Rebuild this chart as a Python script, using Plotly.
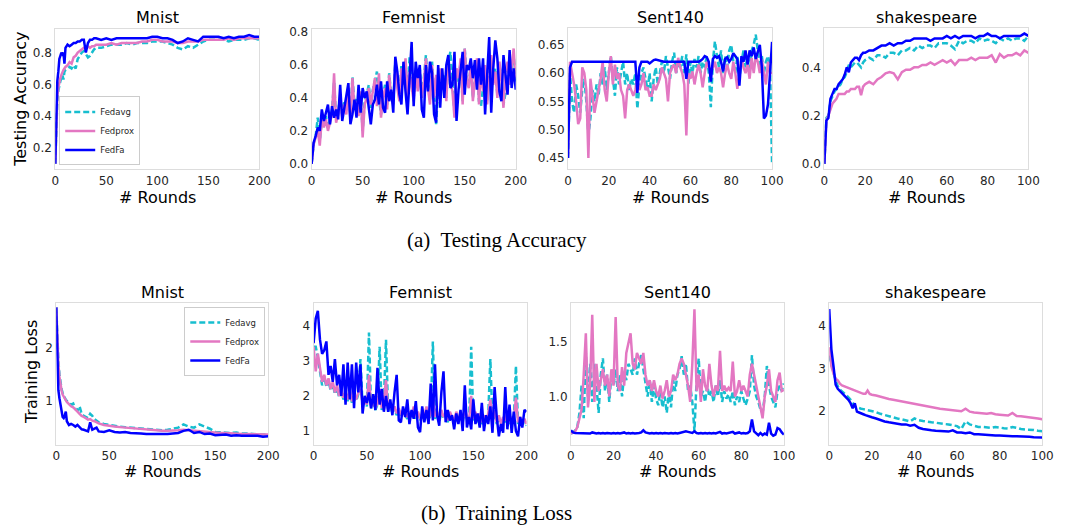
import plotly.graph_objects as go
from plotly.subplots import make_subplots

# ---------------- DATA ----------------
SERIES_NAMES = ["Fedavg", "Fedprox", "FedFa"]

# --- Mnist (rounds 0..200, uneven sampling) ---
MNIST_X = [0, 1, 2, 3, 4, 5, 6, 7, 8, 9, 10,
           12, 14, 16, 18, 20, 22, 24, 26, 28, 30, 32, 34, 36, 38, 40,
           45, 50, 55, 60, 65, 70, 75, 80, 85, 90,
           95, 100, 105, 110, 115, 120, 125, 130, 135, 140,
           145, 150, 155, 160, 165, 170, 175, 180, 185, 190,
           195, 200]

MNIST_ACC_FEDAVG = [0.10, 0.38, 0.50, 0.56, 0.60, 0.62, 0.64, 0.66, 0.63, 0.68, 0.69,
                    0.70, 0.71, 0.70, 0.72, 0.70, 0.76, 0.78, 0.80, 0.81, 0.79, 0.77, 0.78, 0.80, 0.82, 0.83,
                    0.83, 0.84, 0.85, 0.85, 0.85, 0.86, 0.85, 0.86, 0.86, 0.86,
                    0.87, 0.87, 0.87, 0.86, 0.85, 0.83, 0.82, 0.84, 0.83, 0.85,
                    0.87, 0.88, 0.88, 0.88, 0.88, 0.87, 0.88, 0.88, 0.88, 0.89,
                    0.89, 0.88]
MNIST_ACC_FEDPROX = [0.10, 0.40, 0.52, 0.58, 0.62, 0.64, 0.66, 0.68, 0.69, 0.70, 0.71,
                     0.72, 0.74, 0.73, 0.77, 0.78, 0.80, 0.81, 0.82, 0.83, 0.83, 0.84, 0.83, 0.84, 0.84, 0.85,
                     0.85, 0.85, 0.86, 0.85, 0.86, 0.86, 0.86, 0.86, 0.87, 0.87,
                     0.88, 0.88, 0.87, 0.87, 0.87, 0.86, 0.86, 0.87, 0.87, 0.87,
                     0.88, 0.88, 0.88, 0.88, 0.88, 0.89, 0.88, 0.89, 0.89, 0.89,
                     0.89, 0.89]
MNIST_ACC_FEDFA = [0.10, 0.45, 0.62, 0.68, 0.76, 0.78, 0.80, 0.79, 0.80, 0.73, 0.83,
                   0.85, 0.84, 0.85, 0.86, 0.86, 0.87, 0.87, 0.88, 0.88, 0.80, 0.86, 0.88, 0.88, 0.89, 0.89,
                   0.88, 0.89, 0.88, 0.89, 0.89, 0.89, 0.89, 0.89, 0.89, 0.89,
                   0.90, 0.90, 0.89, 0.89, 0.88, 0.86, 0.87, 0.89, 0.88, 0.87,
                   0.90, 0.90, 0.90, 0.90, 0.89, 0.90, 0.89, 0.90, 0.90, 0.91,
                   0.90, 0.90]

MNIST_LOSS_FEDAVG = [2.75, 2.15, 1.75, 1.50, 1.32, 1.22, 1.15, 1.10, 1.08, 1.02, 1.00,
                     0.95, 0.93, 0.95, 0.85, 0.82, 0.90, 0.75, 0.72, 0.70, 0.68, 0.76, 0.72, 0.66, 0.63, 0.60,
                     0.57, 0.55, 0.53, 0.52, 0.51, 0.50, 0.49, 0.48, 0.47, 0.46,
                     0.46, 0.45, 0.46, 0.48, 0.50, 0.56, 0.52, 0.50, 0.56, 0.52,
                     0.48, 0.42, 0.41, 0.40, 0.40, 0.41, 0.39, 0.39, 0.38, 0.38,
                     0.37, 0.37]
MNIST_LOSS_FEDPROX = [2.75, 2.10, 1.70, 1.45, 1.30, 1.20, 1.12, 1.08, 1.05, 1.00, 0.98,
                      0.94, 0.90, 0.88, 0.83, 0.80, 0.76, 0.72, 0.70, 0.67, 0.65, 0.66, 0.63, 0.62, 0.60, 0.58,
                      0.55, 0.53, 0.52, 0.51, 0.50, 0.50, 0.49, 0.48, 0.47, 0.46,
                      0.45, 0.44, 0.44, 0.44, 0.45, 0.46, 0.45, 0.44, 0.44, 0.43,
                      0.42, 0.41, 0.40, 0.40, 0.39, 0.39, 0.38, 0.38, 0.38, 0.37,
                      0.37, 0.37]
MNIST_LOSS_FEDFA = [2.75, 1.75, 1.20, 1.05, 0.95, 0.78, 0.70, 0.68, 0.72, 0.80, 0.62,
                    0.55, 0.57, 0.55, 0.52, 0.55, 0.50, 0.47, 0.46, 0.44, 0.43, 0.60, 0.46, 0.48, 0.50, 0.43,
                    0.42, 0.45, 0.42, 0.41, 0.42, 0.40, 0.40, 0.39, 0.38, 0.38,
                    0.37, 0.37, 0.38, 0.39, 0.40, 0.44, 0.46, 0.40, 0.42, 0.38,
                    0.39, 0.36, 0.36, 0.37, 0.35, 0.36, 0.35, 0.35, 0.34, 0.35,
                    0.33, 0.34]

# --- Femnist (rounds 0..200, every 2 rounds) ---
FEMNIST_X = list(range(0, 201, 2))

FEMNIST_ACC_FEDAVG = [0.00, 0.12, 0.17, 0.28, 0.14, 0.26, 0.24, 0.29, 0.22, 0.28,
                      0.32, 0.50, 0.27, 0.32, 0.40, 0.30, 0.38, 0.32, 0.44, 0.30,
                      0.53, 0.36, 0.40, 0.31, 0.42, 0.20, 0.38, 0.42, 0.48, 0.34,
                      0.45, 0.50, 0.56, 0.40, 0.30, 0.42, 0.48, 0.35, 0.55, 0.42,
                      0.38, 0.62, 0.48, 0.40, 0.60, 0.50, 0.62, 0.42, 0.65, 0.48,
                      0.40, 0.56, 0.46, 0.58, 0.42, 0.52, 0.66, 0.48, 0.38, 0.62,
                      0.42, 0.24, 0.46, 0.56, 0.50, 0.54, 0.40, 0.62, 0.68, 0.46,
                      0.30, 0.56, 0.50, 0.62, 0.38, 0.70, 0.52, 0.48, 0.60, 0.40,
                      0.54, 0.62, 0.38, 0.35, 0.46, 0.58, 0.38, 0.54, 0.64, 0.50,
                      0.58, 0.42, 0.60, 0.52, 0.36, 0.43, 0.60, 0.50, 0.56, 0.66,
                      0.50]
FEMNIST_ACC_FEDPROX = [0.00, 0.12, 0.16, 0.20, 0.11, 0.28, 0.22, 0.27, 0.20, 0.26,
                       0.30, 0.55, 0.25, 0.30, 0.42, 0.28, 0.36, 0.30, 0.46, 0.27,
                       0.52, 0.34, 0.38, 0.29, 0.44, 0.16, 0.36, 0.40, 0.46, 0.36,
                       0.43, 0.52, 0.35, 0.55, 0.28, 0.40, 0.46, 0.33, 0.54, 0.40,
                       0.36, 0.60, 0.46, 0.38, 0.58, 0.48, 0.64, 0.40, 0.56, 0.46,
                       0.38, 0.58, 0.44, 0.56, 0.40, 0.50, 0.64, 0.46, 0.36, 0.60,
                       0.40, 0.54, 0.44, 0.58, 0.48, 0.52, 0.38, 0.64, 0.50, 0.44,
                       0.28, 0.58, 0.52, 0.64, 0.36, 0.70, 0.50, 0.46, 0.62, 0.38,
                       0.52, 0.64, 0.36, 0.58, 0.44, 0.60, 0.36, 0.52, 0.66, 0.48,
                       0.56, 0.40, 0.62, 0.50, 0.34, 0.56, 0.62, 0.48, 0.58, 0.70,
                       0.52]
FEMNIST_ACC_FEDFA = [0.00, 0.13, 0.17, 0.22, 0.20, 0.33, 0.26, 0.32, 0.36, 0.24,
                     0.35, 0.28, 0.33, 0.27, 0.48, 0.26, 0.34, 0.40, 0.49, 0.24,
                     0.30, 0.39, 0.28, 0.48, 0.31, 0.46, 0.40, 0.44, 0.32, 0.24,
                     0.36, 0.39, 0.48, 0.36, 0.50, 0.34, 0.31, 0.50, 0.38, 0.45,
                     0.31, 0.65, 0.56, 0.42, 0.36, 0.62, 0.44, 0.30, 0.52, 0.74,
                     0.35, 0.62, 0.52, 0.60, 0.33, 0.28, 0.60, 0.44, 0.62, 0.55,
                     0.30, 0.25, 0.60, 0.34, 0.58, 0.40, 0.60, 0.66, 0.46, 0.48,
                     0.68, 0.26, 0.45, 0.56, 0.68, 0.42, 0.60, 0.57, 0.64, 0.52,
                     0.63, 0.45, 0.64, 0.48, 0.64, 0.30, 0.52, 0.77, 0.31, 0.58,
                     0.75, 0.64, 0.44, 0.38, 0.66, 0.52, 0.42, 0.69, 0.46, 0.58,
                     0.45]

FEMNIST_LOSS_FEDAVG = [3.40, 3.40, 3.10, 2.70, 2.30, 2.55, 2.25, 2.45, 2.15, 2.35,
                       2.05, 2.25, 1.95, 2.15, 1.90, 2.05, 1.85, 2.15, 1.80, 1.95,
                       1.85, 2.05, 3.05, 1.75, 1.90, 1.70, 3.80, 1.65, 1.80, 1.60,
                       1.75, 3.40, 1.60, 1.85, 3.60, 1.55, 1.75, 1.50, 1.65, 1.45,
                       1.60, 1.40, 1.55, 1.45, 1.35, 1.50, 1.40, 1.65, 1.35, 1.50,
                       1.30, 1.45, 1.35, 1.65, 1.30, 1.45, 3.55, 1.35, 1.50, 1.25,
                       1.55, 1.35, 1.45, 1.25, 1.50, 1.35, 1.25, 1.50, 1.30, 1.40,
                       1.25, 1.60, 1.35, 1.25, 3.40, 1.30, 1.50, 1.25, 1.45, 1.20,
                       1.40, 1.25, 1.45, 3.05, 1.25, 1.55, 1.20, 1.40, 1.15, 1.35,
                       1.25, 1.50, 1.20, 1.35, 1.25, 2.85, 1.20, 1.35, 1.15, 1.30,
                       1.15]
FEMNIST_LOSS_FEDPROX = [3.40, 2.70, 3.20, 2.80, 2.40, 2.60, 2.30, 2.50, 2.20, 2.40,
                        2.10, 2.30, 2.00, 2.20, 1.95, 2.10, 1.90, 2.20, 1.85, 2.00,
                        1.90, 2.10, 2.20, 1.80, 1.95, 1.75, 2.60, 1.70, 1.85, 1.65,
                        1.80, 2.20, 1.65, 1.90, 2.45, 1.60, 1.80, 1.55, 1.70, 1.50,
                        1.65, 1.45, 1.60, 1.50, 1.40, 1.55, 1.45, 1.70, 1.40, 1.55,
                        1.35, 1.50, 1.40, 1.70, 1.35, 1.50, 2.00, 1.40, 1.55, 1.30,
                        1.60, 1.40, 1.50, 1.30, 1.55, 1.40, 1.30, 1.55, 1.35, 1.45,
                        1.30, 1.65, 1.40, 1.30, 2.00, 1.35, 1.55, 1.30, 1.50, 1.25,
                        1.45, 1.30, 1.50, 1.90, 1.30, 1.60, 1.25, 1.45, 1.20, 1.40,
                        1.30, 1.55, 1.25, 1.40, 1.30, 1.95, 1.25, 1.40, 1.20, 1.35,
                        1.20]
FEMNIST_LOSS_FEDFA = [3.50, 4.20, 4.42, 3.60, 3.20, 3.30, 3.55, 2.60, 2.85, 2.40,
                      3.05, 2.30, 2.60, 2.00, 2.90, 1.75, 2.95, 1.90, 2.90, 1.65,
                      2.95, 2.10, 2.90, 1.50, 2.00, 1.80, 2.10, 1.65, 2.05, 1.60,
                      2.80, 1.75, 2.20, 1.55, 2.00, 1.55, 1.90, 1.45, 2.10, 2.60,
                      1.30, 1.25, 1.70, 1.40, 1.90, 1.20, 1.60, 1.35, 1.85, 1.10,
                      0.97, 1.70, 1.25, 1.60, 1.20, 2.35, 1.30, 2.90, 1.45, 1.15,
                      2.10, 2.70, 1.25, 1.60, 1.30, 1.45, 1.05, 1.50, 1.20, 1.60,
                      1.00, 2.30, 1.10, 1.40, 1.05, 1.90, 1.20, 1.50, 1.10, 1.80,
                      1.00, 1.45, 1.20, 1.70, 0.95, 2.25, 1.40, 0.85, 1.20, 0.95,
                      2.25, 1.05, 1.75, 0.95, 1.55, 1.00, 0.85, 1.40, 1.10, 1.60,
                      1.55]

# --- Sent140 (rounds 0..100, every round) ---
SENT_X = list(range(0, 101))

SENT_ACC_FEDAVG = [0.45, 0.60, 0.55, 0.53, 0.58, 0.56, 0.53, 0.57, 0.59, 0.55,
                   0.49, 0.52, 0.57, 0.55, 0.58, 0.56, 0.60, 0.58, 0.61, 0.57,
                   0.60, 0.63, 0.59, 0.56, 0.61, 0.58, 0.60, 0.62, 0.58, 0.60,
                   0.57, 0.59, 0.58, 0.60, 0.537, 0.58, 0.60, 0.61, 0.59, 0.57,
                   0.60, 0.55, 0.59, 0.61, 0.58, 0.60, 0.62, 0.60, 0.63, 0.61,
                   0.59, 0.62, 0.636, 0.60, 0.62, 0.61, 0.63, 0.60, 0.633, 0.58,
                   0.62, 0.60, 0.625, 0.61, 0.63, 0.60, 0.62, 0.61, 0.63, 0.60,
                   0.54, 0.62, 0.656, 0.63, 0.61, 0.64, 0.60, 0.63, 0.61, 0.64,
                   0.65, 0.62, 0.60, 0.63, 0.59, 0.62, 0.64, 0.61, 0.63, 0.60,
                   0.64, 0.65, 0.668, 0.64, 0.61, 0.63, 0.60, 0.62, 0.63, 0.61,
                   0.44]
SENT_ACC_FEDPROX = [0.45, 0.62, 0.60, 0.58, 0.55, 0.51, 0.52, 0.61, 0.60, 0.57,
                    0.45, 0.59, 0.56, 0.53, 0.55, 0.57, 0.59, 0.62, 0.57, 0.55,
                    0.60, 0.63, 0.58, 0.615, 0.59, 0.60, 0.57, 0.56, 0.52, 0.57,
                    0.58, 0.57, 0.56, 0.57, 0.59, 0.57, 0.58, 0.60, 0.57, 0.575,
                    0.56, 0.56, 0.58, 0.57, 0.58, 0.59, 0.61, 0.60, 0.59, 0.55,
                    0.60, 0.61, 0.615, 0.60, 0.627, 0.61, 0.60, 0.58, 0.49, 0.60,
                    0.59, 0.603, 0.58, 0.60, 0.615, 0.60, 0.575, 0.60, 0.62, 0.61,
                    0.603, 0.61, 0.62, 0.60, 0.61, 0.60, 0.575, 0.60, 0.615, 0.60,
                    0.59, 0.62, 0.60, 0.572, 0.60, 0.627, 0.61, 0.60, 0.615, 0.59,
                    0.627, 0.60, 0.63, 0.62, 0.60, 0.624, 0.60, 0.58, 0.62, 0.60,
                    0.60]
SENT_ACC_FEDFA = [0.45, 0.61, 0.62, 0.62, 0.62, 0.62, 0.62, 0.62, 0.62, 0.62,
                  0.62, 0.62, 0.62, 0.62, 0.62, 0.62, 0.62, 0.62, 0.62, 0.62,
                  0.62, 0.62, 0.62, 0.62, 0.62, 0.62, 0.62, 0.62, 0.62, 0.62,
                  0.62, 0.62, 0.62, 0.62, 0.565, 0.61, 0.62, 0.62, 0.62, 0.62,
                  0.617, 0.62, 0.623, 0.624, 0.623, 0.622, 0.62, 0.62, 0.62, 0.62,
                  0.62, 0.62, 0.62, 0.62, 0.62, 0.62, 0.62, 0.62, 0.59, 0.62,
                  0.62, 0.62, 0.62, 0.62, 0.62, 0.622, 0.625, 0.63, 0.628, 0.62,
                  0.585, 0.625, 0.63, 0.627, 0.63, 0.62, 0.603, 0.625, 0.628, 0.62,
                  0.625, 0.635, 0.63, 0.625, 0.578, 0.63, 0.62, 0.64, 0.615, 0.64,
                  0.63, 0.645, 0.625, 0.64, 0.65, 0.61, 0.52, 0.525, 0.545, 0.60,
                  0.655]

SENT_LOSS_FEDAVG = [0.66, 0.67, 0.69, 0.72, 0.85, 1.10, 0.80, 1.40, 1.00, 1.30,
                    0.95, 1.30, 1.10, 0.85, 1.20, 1.35, 1.05, 1.20, 0.95, 1.20,
                    1.10, 1.25, 1.05, 1.20, 1.00, 1.20, 1.15, 1.30, 1.25, 1.20,
                    1.35, 1.20, 1.30, 1.38, 1.25, 1.10, 1.00, 1.15, 0.95, 1.10,
                    0.98, 0.92, 1.05, 0.90, 1.00, 0.85, 1.05, 0.90, 1.15, 1.05,
                    1.20, 1.25, 1.37, 1.20, 1.30, 1.05, 1.10, 0.95, 0.68, 1.15,
                    1.35, 1.00, 1.05, 0.95, 1.10, 1.00, 1.05, 0.95, 1.10, 1.00,
                    1.15, 0.95, 1.05, 0.98, 1.02, 0.95, 1.05, 0.92, 1.00, 0.95,
                    1.05, 0.98, 0.92, 0.98, 1.05, 1.38, 1.10, 1.00, 0.95, 0.88,
                    0.85, 1.00, 1.28, 1.10, 1.00, 0.95, 0.90, 1.05, 1.10, 1.05,
                    1.12]
SENT_LOSS_FEDPROX = [0.66, 0.67, 0.68, 0.72, 0.80, 0.88, 1.20, 1.58, 0.90, 1.10,
                     1.75, 0.95, 1.30, 1.05, 1.15, 1.25, 1.10, 1.20, 1.00, 1.25,
                     1.10, 1.73, 1.10, 1.05, 1.27, 1.10, 1.40, 1.50, 1.58, 1.30,
                     1.25, 1.40, 1.35, 1.30, 1.40, 1.20, 1.10, 1.15, 1.05, 1.15,
                     1.05, 1.00, 1.10, 0.98, 1.05, 1.15, 1.00, 1.05, 1.20, 1.15,
                     1.20, 1.30, 1.35, 1.30, 1.20, 1.10, 0.95, 1.30, 1.80, 1.05,
                     1.20, 0.95, 1.25, 1.10, 1.05, 1.30, 1.10, 1.00, 1.10, 1.05,
                     1.42, 1.05, 1.10, 1.05, 1.08, 1.05, 1.32, 1.00, 1.05, 1.15,
                     1.05, 1.10, 1.05, 1.00, 1.20, 1.30, 1.20, 1.10, 1.00, 0.90,
                     0.80, 1.00, 1.10, 1.25, 1.05, 1.00, 0.95, 1.15, 1.22, 1.05,
                     1.06]
SENT_LOSS_FEDFA = [0.69, 0.67, 0.665, 0.665, 0.665, 0.66, 0.665, 0.66, 0.665, 0.66,
                   0.67, 0.665, 0.66, 0.665, 0.66, 0.665, 0.66, 0.665, 0.66, 0.66,
                   0.665, 0.66, 0.665, 0.66, 0.665, 0.67, 0.66, 0.665, 0.66, 0.665,
                   0.66, 0.66, 0.665, 0.67, 0.69, 0.67, 0.665, 0.66, 0.665, 0.66,
                   0.665, 0.66, 0.665, 0.66, 0.665, 0.66, 0.66, 0.665, 0.66, 0.665,
                   0.66, 0.665, 0.67, 0.675, 0.68, 0.675, 0.67, 0.665, 0.68, 0.665,
                   0.66, 0.665, 0.66, 0.665, 0.66, 0.665, 0.66, 0.665, 0.66, 0.665,
                   0.675, 0.66, 0.665, 0.66, 0.665, 0.67, 0.675, 0.66, 0.665, 0.67,
                   0.66, 0.665, 0.66, 0.665, 0.68, 0.79, 0.68, 0.66, 0.645, 0.665,
                   0.645, 0.66, 0.65, 0.76, 0.66, 0.64, 0.65, 0.71, 0.70, 0.67,
                   0.65]

# --- shakespeare (rounds 0..100, uneven sampling) ---
SHAKE_X = [0, 1, 2, 3, 4, 5, 6, 7, 8, 9, 10, 11, 12, 13, 14, 15, 16, 17, 18, 19, 20,
           22, 24, 26, 28, 30, 32, 34, 36, 38, 40,
           42, 44, 46, 48, 50, 52, 54, 56, 58, 60,
           62, 64, 66, 68, 70, 72, 74, 76, 78, 80,
           82, 84, 86, 88, 90, 92, 94, 96, 98, 100]

SHAKE_ACC_FEDAVG = [0.00, 0.19, 0.20, 0.26, 0.28, 0.30, 0.31, 0.32, 0.33, 0.35, 0.36,
                    0.38, 0.41, 0.40, 0.41, 0.42, 0.42, 0.41, 0.40, 0.42, 0.43,
                    0.44, 0.43, 0.45, 0.45, 0.44, 0.46, 0.46, 0.45, 0.47, 0.47,
                    0.48, 0.47, 0.49, 0.48, 0.49, 0.49, 0.48, 0.50, 0.50, 0.50,
                    0.49, 0.475, 0.51, 0.50, 0.51, 0.51, 0.50, 0.52, 0.51, 0.515,
                    0.51, 0.50, 0.52, 0.51, 0.52, 0.51, 0.52, 0.52, 0.51, 0.53]
SHAKE_ACC_FEDPROX = [0.00, 0.18, 0.20, 0.23, 0.25, 0.26, 0.27, 0.29, 0.29, 0.29, 0.29,
                     0.30, 0.30, 0.31, 0.31, 0.31, 0.32, 0.32, 0.285, 0.32, 0.33,
                     0.34, 0.33, 0.35, 0.36, 0.375, 0.38, 0.375, 0.35, 0.38, 0.39,
                     0.39, 0.40, 0.40, 0.41, 0.41, 0.42, 0.41, 0.42, 0.43, 0.42,
                     0.43, 0.41, 0.43, 0.43, 0.43, 0.44, 0.43, 0.44, 0.44, 0.44,
                     0.45, 0.42, 0.455, 0.44, 0.45, 0.45, 0.46, 0.45, 0.47, 0.46]
SHAKE_ACC_FEDFA = [0.00, 0.18, 0.19, 0.27, 0.29, 0.31, 0.31, 0.33, 0.34, 0.35, 0.37,
                   0.40, 0.38, 0.42, 0.43, 0.44, 0.44, 0.43, 0.45, 0.46, 0.46,
                   0.47, 0.47, 0.48, 0.49, 0.49, 0.50, 0.49, 0.50, 0.50, 0.51,
                   0.51, 0.52, 0.52, 0.52, 0.52, 0.51, 0.52, 0.52, 0.52, 0.53,
                   0.52, 0.53, 0.52, 0.53, 0.53, 0.53, 0.52, 0.53, 0.53, 0.54,
                   0.53, 0.53, 0.52, 0.53, 0.53, 0.53, 0.53, 0.53, 0.54, 0.53]

SHAKE_LOSS_FEDAVG = [3.30, 3.10, 2.90, 2.72, 2.58, 2.50, 2.46, 2.42, 2.38, 2.32, 2.26,
                     2.18, 2.10, 2.08, 2.06, 2.05, 2.04, 2.03, 2.02, 2.01, 2.00,
                     1.97, 1.93, 1.90, 1.88, 1.85, 1.82, 1.80, 1.78, 1.75, 1.82,
                     1.78, 1.76, 1.74, 1.73, 1.72, 1.70, 1.69, 1.68, 1.66, 1.64,
                     1.57, 1.75, 1.68, 1.65, 1.62, 1.62, 1.61, 1.60, 1.62, 1.60,
                     1.59, 1.58, 1.62, 1.60, 1.57, 1.56, 1.56, 1.55, 1.53, 1.52]
SHAKE_LOSS_FEDPROX = [3.50, 3.05, 2.88, 2.76, 2.72, 2.64, 2.60, 2.58, 2.56, 2.54, 2.52,
                      2.50, 2.48, 2.45, 2.44, 2.42, 2.40, 2.40, 2.48, 2.40, 2.38,
                      2.36, 2.33, 2.30, 2.28, 2.26, 2.24, 2.22, 2.20, 2.18, 2.16,
                      2.14, 2.12, 2.10, 2.08, 2.06, 2.05, 2.04, 2.03, 2.02, 2.00,
                      1.99, 2.05, 1.98, 1.96, 1.95, 1.94, 1.93, 1.95, 1.92, 1.91,
                      1.90, 1.89, 1.95, 1.88, 1.87, 1.86, 1.85, 1.83, 1.82, 1.80]
SHAKE_LOSS_FEDFA = [4.40, 3.45, 3.05, 2.62, 2.52, 2.47, 2.42, 2.37, 2.32, 2.26, 2.18,
                    2.06, 2.18, 1.98, 1.96, 1.93, 1.92, 1.90, 1.88, 1.86, 1.85,
                    1.82, 1.78, 1.75, 1.73, 1.71, 1.70, 1.68, 1.68, 1.65, 1.67,
                    1.60, 1.57, 1.55, 1.54, 1.53, 1.52, 1.51, 1.51, 1.54, 1.49,
                    1.49, 1.47, 1.49, 1.45, 1.45, 1.44, 1.43, 1.43, 1.42, 1.42,
                    1.41, 1.41, 1.40, 1.40, 1.40, 1.39, 1.39, 1.38, 1.37, 1.37]

PANEL_TITLES = ["Mnist", "Femnist", "Sent140", "shakespeare"]
X_LABEL = "# Rounds"
Y_LABEL_TOP = "Testing Accuracy"
Y_LABEL_BOTTOM = "Training Loss"
CAPTION_TOP = "(a)  Testing Accuracy"
CAPTION_BOTTOM = "(b)  Training Loss"

# ---------------- STYLE / LAYOUT ----------------
W, H = 1069, 526
COLORS = {"Fedavg": "#17becf", "Fedprox": "#e377c2", "FedFa": "#0000ff"}
DASHES = {"Fedavg": "6px,3px", "Fedprox": "solid", "FedFa": "solid"}
FONT = "DejaVu Sans"
SERIF = "Liberation Serif"
TXT = "#262626"
FRAME = "#dddddd"

panels = [
    dict(x=MNIST_X, ys=[MNIST_ACC_FEDAVG, MNIST_ACC_FEDPROX, MNIST_ACC_FEDFA],
         box=(52, 259, 26, 168), xr=[0, 200], xd=50, yr=[0.065, 0.95], yd=0.2, yf=".1f"),
    dict(x=FEMNIST_X, ys=[FEMNIST_ACC_FEDAVG, FEMNIST_ACC_FEDPROX, FEMNIST_ACC_FEDFA],
         box=(312, 519, 26, 168), xr=[0, 200], xd=50, yr=[-0.034, 0.82], yd=0.2, yf=".1f"),
    dict(x=SENT_X, ys=[SENT_ACC_FEDAVG, SENT_ACC_FEDPROX, SENT_ACC_FEDFA],
         box=(572, 779, 25, 168), xr=[0, 100], xd=20, yr=[0.43, 0.68], yd=0.05, yf=".2f"),
    dict(x=SHAKE_X, ys=[SHAKE_ACC_FEDAVG, SHAKE_ACC_FEDPROX, SHAKE_ACC_FEDFA],
         box=(832, 1039, 25, 168), xr=[0, 100], xd=20, yr=[-0.023, 0.564], yd=0.2, yf=".1f"),
    dict(x=MNIST_X, ys=[MNIST_LOSS_FEDAVG, MNIST_LOSS_FEDPROX, MNIST_LOSS_FEDFA],
         box=(53, 268, 303, 446), xr=[0, 200], xd=50, yr=[0.18, 2.83], yd=1, yf="d"),
    dict(x=FEMNIST_X, ys=[FEMNIST_LOSS_FEDAVG, FEMNIST_LOSS_FEDPROX, FEMNIST_LOSS_FEDFA],
         box=(314, 530, 303, 446), xr=[0, 200], xd=50, yr=[0.61, 4.64], yd=1, yf="d"),
    dict(x=SENT_X, ys=[SENT_LOSS_FEDAVG, SENT_LOSS_FEDPROX, SENT_LOSS_FEDFA],
         box=(575, 791, 303, 446), xr=[0, 100], xd=20, yr=[0.557, 1.857], yd=0.5, yf=".1f"),
    dict(x=SHAKE_X, ys=[SHAKE_LOSS_FEDAVG, SHAKE_LOSS_FEDPROX, SHAKE_LOSS_FEDFA],
         box=(837, 1053, 303, 446), xr=[0, 100], xd=20, yr=[1.2, 4.54], yd=1, yf="d"),
]

fig = make_subplots(rows=2, cols=4)

annotations = []
for i, p in enumerate(panels):
    row, col = i // 4 + 1, i % 4 + 1
    for name, y in zip(SERIES_NAMES, p["ys"]):
        legend_id = "legend" if i == 0 else "legend2"
        fig.add_trace(go.Scatter(
            x=p["x"], y=y, mode="lines", name=name,
            line=dict(color=COLORS[name], width=2.5, dash=DASHES[name]),
            showlegend=(i in (0, 4)), legend=legend_id,
        ), row=row, col=col)
    l, r, t, b = p["box"]
    ax = "" if i == 0 else str(i + 1)
    common = dict(showline=True, mirror=True, linecolor=FRAME, linewidth=1,
                  showgrid=False, zeroline=False, ticks="",
                  tickfont=dict(family=FONT, size=12, color=TXT))
    fig.layout["xaxis" + ax].update(domain=[l / W, r / W], range=p["xr"],
                                    tick0=0, dtick=p["xd"], **common)
    fig.layout["yaxis" + ax].update(domain=[1 - b / H, 1 - t / H], range=p["yr"],
                                    tick0=0, dtick=p["yd"], tickformat=p["yf"], **common)
    cx = (l + r) / 2 / W
    title_y = 15 if i < 4 else 292
    annotations.append(dict(text=PANEL_TITLES[i % 4], x=cx, y=1 - title_y / H,
                            xref="paper", yref="paper", showarrow=False,
                            xanchor="center", yanchor="middle",
                            font=dict(family=FONT, size=16, color="black")))
    xl_y = 196 if i < 4 else 473
    annotations.append(dict(text=X_LABEL, x=cx, y=1 - xl_y / H,
                            xref="paper", yref="paper", showarrow=False,
                            xanchor="center", yanchor="middle",
                            font=dict(family=FONT, size=16, color="black")))

annotations.append(dict(text=Y_LABEL_TOP, x=16 / W, y=1 - 97 / H, xref="paper", yref="paper",
                        showarrow=False, textangle=-90, xanchor="center", yanchor="middle",
                        font=dict(family=FONT, size=16, color="black")))
annotations.append(dict(text=Y_LABEL_BOTTOM, x=28 / W, y=1 - 373 / H, xref="paper", yref="paper",
                        showarrow=False, textangle=-90, xanchor="center", yanchor="middle",
                        font=dict(family=FONT, size=16, color="black")))
annotations.append(dict(text=CAPTION_TOP, x=500 / W, y=1 - 239 / H, xref="paper", yref="paper",
                        showarrow=False, xanchor="center", yanchor="middle",
                        font=dict(family=SERIF, size=21, color="black")))
annotations.append(dict(text=CAPTION_BOTTOM, x=500 / W, y=1 - 515 / H, xref="paper", yref="paper",
                        showarrow=False, xanchor="center", yanchor="middle",
                        font=dict(family=SERIF, size=21, color="black")))

legend_style = dict(bgcolor="white", bordercolor="#cccccc", borderwidth=1,
                    font=dict(family=FONT, size=8.5, color=TXT), itemwidth=30,
                    tracegroupgap=0)
fig.update_layout(
    width=W, height=H, autosize=False,
    margin=dict(l=0, r=0, t=0, b=0),
    paper_bgcolor="white", plot_bgcolor="white",
    annotations=annotations,
    legend=dict(x=56 / W, y=1 - 164 / H, xanchor="left", yanchor="bottom", **legend_style),
    legend2=dict(x=265 / W, y=1 - 307 / H, xanchor="right", yanchor="top", **legend_style),
)

fig.write_html("out.html", config={"displayModeBar": False},
               post_script="document.body.style.margin='0px';document.body.style.padding='0px';")
